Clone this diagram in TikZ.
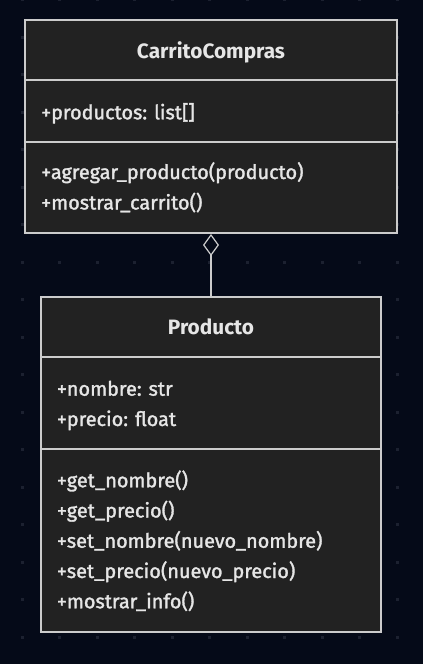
\documentclass[tikz,border=0pt]{standalone}
\usepackage{fontspec}
\setmainfont{Fira Sans}
\newfontfamily\miembrofont[FakeBold=1.6]{Fira Sans}
\usetikzlibrary{arrows.meta,positioning}

\definecolor{fondo}{HTML}{050A18}
\definecolor{caja}{HTML}{222222}
\definecolor{borde}{HTML}{CCCCCC}
\definecolor{texto}{HTML}{E6E6E6}
\definecolor{punto}{HTML}{1C2130}

\tikzset{
  clase/.style={draw=borde, fill=caja, line width=1.5pt, inner sep=0pt},
  separador/.style={draw=borde, line width=1.5pt},
  titulo/.style={text=texto, font=\bfseries\fontsize{15.6}{18}\selectfont, anchor=base, inner sep=0pt},
  miembro/.style={text=texto, font=\miembrofont\fontsize{14.9}{17}\selectfont, anchor=base west, inner sep=0pt},
  conector/.style={draw=borde, line width=0.9pt, -{Diamond[open, length=16.5pt, width=12pt]}},
}

\begin{document}
\begin{tikzpicture}[x=0.75pt,y=-0.75pt]
    % Fondo
    \fill[fondo] (0,0) rectangle (423,664);
    \useasboundingbox (0,0) rectangle (423,664);

    % Rejilla de puntos
    \foreach \i in {0,...,10} {
        \foreach \j in {0,...,17} {
            \fill[punto] (20.5+37.5*\i,-2+37.5*\j) rectangle +(3,3);
        }
    }

    % Clase CarritoCompras
    \node[clase, minimum width=279pt, minimum height=159.75pt] (carrito) at (211,126.5) {};
    \draw[separador] (25,80) -- (397,80);
    \draw[separador] (25,142) -- (397,142);
    \node[titulo] (carritoT) at (211,58.3) {CarritoCompras};
    \node[miembro] (carritoA) at (41,119.3) {+productos: list[]};
    \node[miembro] (carritoM1) at (41,179) {+agregar\_producto(producto)};
    \node[miembro] (carritoM2) at (41,209.5) {+mostrar\_carrito()};

    % Clase Producto
    \node[clase, minimum width=255pt, minimum height=251.25pt] (producto) at (211,464) {};
    \draw[separador] (41,357.3) -- (381,357.3);
    \draw[separador] (41,449) -- (381,449);
    \node[titulo] (productoT) at (211,334) {Producto};
    \node[miembro] (productoA1) at (56.7,395.7) {+nombre: str};
    \node[miembro] (productoA2) at (56.7,426) {+precio: float};
    \foreach \m [count=\k] in {+get\_nombre(), +get\_precio(), +set\_nombre(nuevo\_nombre),
                               +set\_precio(nuevo\_precio), +mostrar\_info()} {
        \node[miembro] (productoM\k) at (56.7,457+30.25*\k) {\m};
    }

    % Agregacion
    \draw[conector] (producto.north) -- (carrito.south);
\end{tikzpicture}
\end{document}
